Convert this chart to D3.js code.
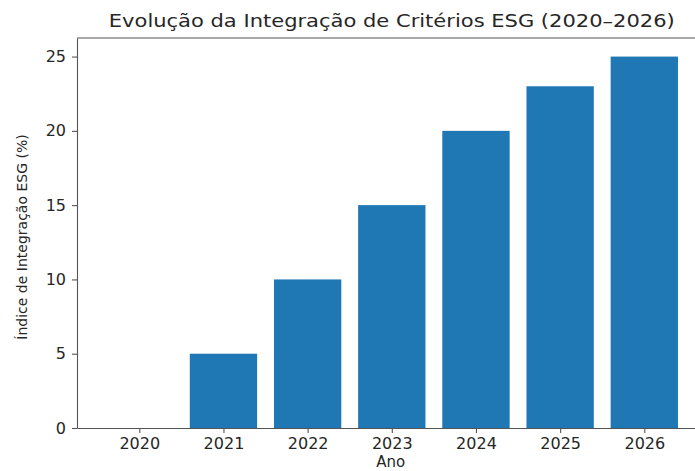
<!DOCTYPE html>
<html>
<head>
<meta charset="utf-8">
<script src="https://cdn.jsdelivr.net/npm/d3@7"></script>
<style>
  body { margin: 0; background: #fff; }
  text { font-family: "DejaVu Sans", sans-serif; fill: #262626; }
</style>
</head>
<body>
<div id="chart"></div>
<script>
// data
var years = ["2020", "2021", "2022", "2023", "2024", "2025", "2026"];
var values = [0, 5, 10, 15, 20, 23, 25];
var yTicks = [0, 5, 10, 15, 20, 25];

var W = 695, H = 471;
// axes box (right side runs past the window like in the picture)
var margin = {top: 38, left: 77},
  plotW = 629.6,
  plotH = 390;

// linear scale like matplotlib bars: xlim -0.74..6.74
var x = d3.scaleLinear().domain([-0.74, years.length - 1 + 0.74]).range([0, plotW]);
var y = d3.scaleLinear().domain([0, 26.25]).range([plotH, 0]);
var barW = 0.8;

var svg = d3.select("#chart").append("svg")
    .attr("width", W)
    .attr("height", H);

var g = svg.append("g")
    .attr("transform", "translate(" + margin.left + "," + margin.top + ")");

//bars
g.selectAll("rect.bar")
  .data(values)
  .enter().append("rect")
    .attr("class", "bar")
    .attr("x", function(d, i) { return x(i - barW / 2); })
    .attr("width", function() { return x(barW) - x(0); })
    .attr("y", function(d) { return y(d); })
    .attr("height", function(d) { return y(0) - y(d); })
    .attr("fill", "#1f77b4");

//x axis
var xAxis = g.append("g")
    .attr("transform", "translate(0," + plotH + ")")
    .call(d3.axisBottom(x)
      .tickValues(d3.range(years.length))
      .tickFormat(function(i) { return years[i]; })
      .tickSize(5).tickPadding(5).tickSizeOuter(0));

//y axis
var yAxis = g.append("g")
    .call(d3.axisLeft(y).tickValues(yTicks).tickSize(5).tickPadding(6).tickSizeOuter(0));

[xAxis, yAxis].forEach(function(a) {
  a.select(".domain").attr("stroke", "#555").attr("stroke-width", 1.1);
  a.selectAll(".tick line").attr("stroke", "#555").attr("stroke-width", 1.1);
  a.selectAll(".tick text").attr("font-size", 16).attr("font-family", "DejaVu Sans").attr("fill", "#333");
});

//top and right spines
g.append("line")
    .attr("x1", 0).attr("x2", plotW).attr("y1", 0).attr("y2", 0)
    .attr("stroke", "#555").attr("stroke-width", 1.1);
g.append("line")
    .attr("x1", plotW).attr("x2", plotW).attr("y1", 0).attr("y2", plotH)
    .attr("stroke", "#555").attr("stroke-width", 1.1);

//title
svg.append("text")
    .attr("x", margin.left + plotW / 2)
    .attr("y", 27)
    .attr("text-anchor", "middle")
    .attr("font-size", 17.5)
    .attr("textLength", 566)
    .attr("lengthAdjust", "spacingAndGlyphs")
    .text("Evolução da Integração de Critérios ESG (2020–2026)");

//axis labels
svg.append("text")
    .attr("x", margin.left + plotW / 2 - 1)
    .attr("y", 467)
    .attr("text-anchor", "middle")
    .attr("font-size", 15)
    .text("Ano");

svg.append("text")
    .attr("transform", "translate(27," + (margin.top + plotH / 2 + 4) + ") rotate(-90)")
    .attr("text-anchor", "middle")
    .attr("font-size", 14)
    .text("Índice de Integração ESG (%)");
</script>
</body>
</html>
